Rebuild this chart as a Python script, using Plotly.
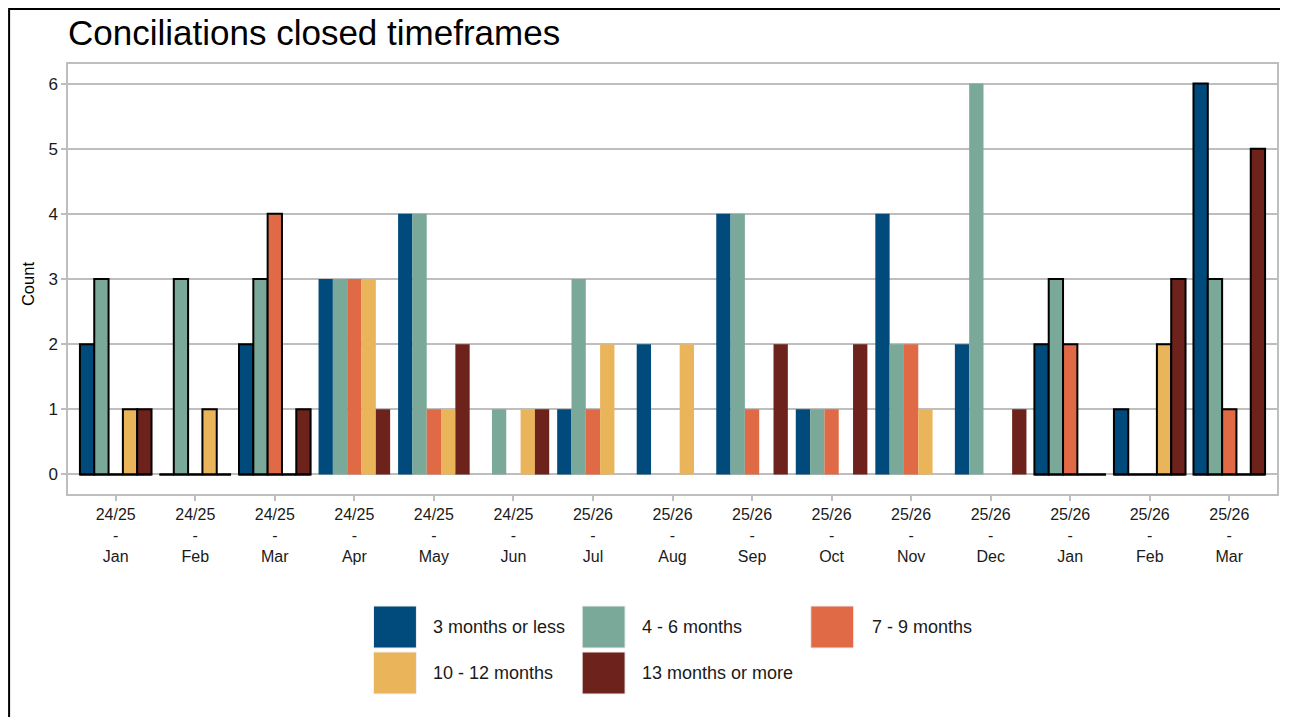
import plotly.graph_objects as go

# ---------------- data ----------------
years = ["24/25", "24/25", "24/25", "24/25", "24/25", "24/25",
         "25/26", "25/26", "25/26", "25/26", "25/26", "25/26",
         "25/26", "25/26", "25/26"]
months = ["Jan", "Feb", "Mar", "Apr", "May", "Jun", "Jul", "Aug",
          "Sep", "Oct", "Nov", "Dec", "Jan", "Feb", "Mar"]
series_names = ["3 months or less", "4 - 6 months", "7 - 9 months",
                "10 - 12 months", "13 months or more"]
v_3m   = [2, 0, 2, 3, 4, 0, 1, 2, 4, 1, 4, 2, 2, 1, 6]
v_4_6  = [3, 3, 3, 3, 4, 1, 3, 0, 4, 1, 2, 6, 3, 0, 3]
v_7_9  = [0, 0, 4, 3, 1, 0, 1, 0, 1, 1, 2, 0, 2, 0, 1]
v_10_12 = [1, 1, 0, 3, 1, 1, 2, 2, 0, 0, 1, 0, 0, 2, 0]
v_13p  = [1, 0, 1, 1, 2, 1, 0, 0, 2, 2, 0, 1, 0, 3, 5]
values = [v_3m, v_4_6, v_7_9, v_10_12, v_13p]

# ---------------- style ----------------
colors = ["#004B7C", "#7BA999", "#DF6A45", "#E9B45A", "#6D221B"]
outlined = [True, True, True, False, False, False, False, False,
            False, False, False, False, True, True, True]

OFF = 8                      # page body margin
W, H = 1290 - OFF, 717 - OFF  # figure size
PL, PR, PT, PB = 68, 1279, 64, 494  # panel box in page pixels


def px(x):
    return (x - PL) / (PR - PL)


def py(y):
    return (PB - y) / (PB - PT)


xs = list(range(len(months)))
ticktext = [f"{y}<br>-<br>{m}" for y, m in zip(years, months)]

fig = go.Figure()
for name, vals, col in zip(series_names, values, colors):
    fig.add_trace(go.Bar(
        x=xs, y=vals, name=name,
        marker=dict(color=col,
                    line=dict(color=["black" if o else col for o in outlined],
                              width=[2 if o else 0 for o in outlined])),
        showlegend=False,
    ))

# baseline outline for the outlined groups (zero-height bars)
bx, by = [], []
for i, o in enumerate(outlined):
    if o:
        bx += [i - 0.45, i + 0.45, None]
        by += [0, 0, None]
fig.add_trace(go.Scatter(x=bx, y=by, mode="lines",
                         line=dict(color="black", width=2),
                         hoverinfo="skip", showlegend=False))

grid = "#BEBEBE"
fig.update_layout(
    width=W, height=H,
    margin=dict(l=PL - OFF, r=W + OFF - PR, t=PT - OFF, b=H + OFF - PB),
    paper_bgcolor="white", plot_bgcolor="white",
    barmode="group", bargap=0.1, bargroupgap=0,
    font=dict(family="Liberation Sans, Arial, sans-serif", color="#1a1a1a"),
    title=dict(text="Conciliations closed timeframes",
               x=0, xref="paper", xanchor="left",
               y=1 - (33 - OFF) / H, yref="container", yanchor="middle",
               font=dict(size=35, color="black")),
    xaxis=dict(range=[-0.6, 14.6], tickvals=xs, ticktext=ticktext,
               showgrid=False, zeroline=False,
               showline=True, mirror=True, linecolor=grid, linewidth=1.5,
               ticks="outside", ticklen=5, tickcolor=grid, tickwidth=1.5,
               tickfont=dict(size=16, color="#1a1a1a")),
    yaxis=dict(range=[-0.3, 6.3], dtick=1, tick0=0,
               showgrid=True, gridcolor=grid, gridwidth=1.5, zeroline=False,
               showline=True, mirror=True, linecolor=grid, linewidth=1.5,
               ticks="outside", ticklen=5, tickcolor=grid, tickwidth=1.5,
               tickfont=dict(size=17, color="#1a1a1a")),
)

# y axis title
annotations = [dict(text="Count", x=px(28), y=py(284), xref="paper", yref="paper",
                    showarrow=False, textangle=-90, font=dict(size=16.5, color="black"),
                    xanchor="center", yanchor="middle")]
shapes = []

# outer frame (left and top edges) at the figure's own edge
fx, fy = OFF + 1, OFF + 1
shapes.append(dict(type="path", xref="paper", yref="paper",
                   path=f"M {px(fx)},{py(730)} L {px(fx)},{py(fy)} L {px(1282)},{py(fy)}",
                   line=dict(color="black", width=2)))

# manual legend
key_cols = [(374, 417, 432), (583, 626, 641), (812, 855, 871)]
key_rows = [(606, 648), (652, 694)]
for k, (name, col) in enumerate(zip(series_names, colors)):
    r, c = divmod(k, 3)
    x0, x1, tx = key_cols[c]
    y0, y1 = key_rows[r]
    shapes.append(dict(type="rect", xref="paper", yref="paper",
                       x0=px(x0), x1=px(x1), y0=py(y1), y1=py(y0),
                       fillcolor=col, line=dict(color="#f0f0f0", width=1)))
    annotations.append(dict(text=name, x=px(tx), y=py((y0 + y1) / 2),
                            xref="paper", yref="paper", showarrow=False,
                            xanchor="left", yanchor="middle",
                            font=dict(size=18, color="#1a1a1a")))

fig.update_layout(shapes=shapes, annotations=annotations)
fig.write_html("out.html")
